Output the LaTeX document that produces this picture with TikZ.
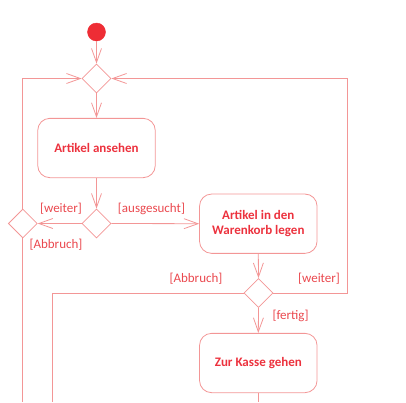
\documentclass[tikz,border=0pt]{standalone}
\usepackage{fontspec}
\setmainfont{Carlito}
\usetikzlibrary{shapes.geometric,arrows.meta}
\definecolor{umlline}{RGB}{243,150,150}
\definecolor{umltext}{RGB}{236,50,62}
\definecolor{umlguard}{RGB}{234,72,78}
\definecolor{umlstart}{RGB}{238,45,53}
\tikzset{
  act/.style={draw=umlline, line width=0.8pt, rounded corners=12pt, rectangle,
    minimum width=117.5pt, minimum height=59.3pt, align=center,
    text=umltext, font=\fontsize{13}{15.5}\selectfont\bfseries},
  dec/.style={draw=umlline, line width=0.8pt, diamond, shape aspect=1,
    minimum width=29pt, minimum height=29pt, inner sep=0pt},
  startnode/.style={circle, fill=umlstart, draw=umlstart, minimum size=18pt, inner sep=0pt},
  flow/.style={draw=umlline, line width=0.8pt},
  arr/.style={flow, -{Straight Barb[length=14pt, width=10pt, line width=0.8pt]}},
  guard/.style={text=umlguard, font=\fontsize{13}{15.5}\selectfont, inner sep=0pt},
}
\begin{document}
\begin{tikzpicture}[x=1pt,y=-1pt]
\useasboundingbox (0,0) rectangle (406,402);
\node[startnode] (start) at (96.5,32) {};
\node[dec] (d1) at (96.5,78.5) {};
\node[act] (a1) at (96.5,148) {Artikel ansehen};
\node[dec] (d2) at (96.5,223.5) {};
\node[dec] (d3) at (22.8,223.5) {};
\node[act] (a2) at (258.3,223.7) {Artikel in den\\Warenkorb legen};
\node[dec] (d4) at (258.5,293) {};
\node[act] (a3) at (258.3,363) {Zur Kasse gehen};

\coordinate (lt) at (22.8,78.5);
\coordinate (lb) at (22.8,402);
\coordinate (ml) at (52.3,293);
\coordinate (mb) at (52.3,402);
\coordinate (rb) at (347.7,293);
\coordinate (rt) at (347.7,78.5);
\coordinate (ab) at (258.3,402);

\draw[arr] (start) -- (d1.north);
\draw[arr] (d1.south) -- (a1.north);
\draw[arr] (a1.south) -- (d2.north);
\draw[arr] (d2.east) -- (a2.west);
\draw[arr] (d2.west) -- (d3.east);
\draw[arr] (d3.north) -- (lt) -- (d1.west);
\draw[flow] (d3.south) -- (lb);
\draw[arr] (a2.south) -- (d4.north);
\draw[flow] (d4.west) -- (ml) -- (mb);
\draw[arr] (d4.east) -- (rb) -- (rt) -- (d1.east);
\draw[arr] (d4.south) -- (a3.north);
\draw[flow] (a3.south) -- (ab);

\node[guard] (g1) at (151.5,208.5) {[ausgesucht]};
\node[guard] (g2) at (61,208.5) {[weiter]};
\node[guard] (g3) at (56,245) {[Abbruch]};
\node[guard] (g4) at (196,279) {[Abbruch]};
\node[guard] (g5) at (319,279) {[weiter]};
\node[guard] (g6) at (290.5,316) {[fertig]};
\end{tikzpicture}
\end{document}
